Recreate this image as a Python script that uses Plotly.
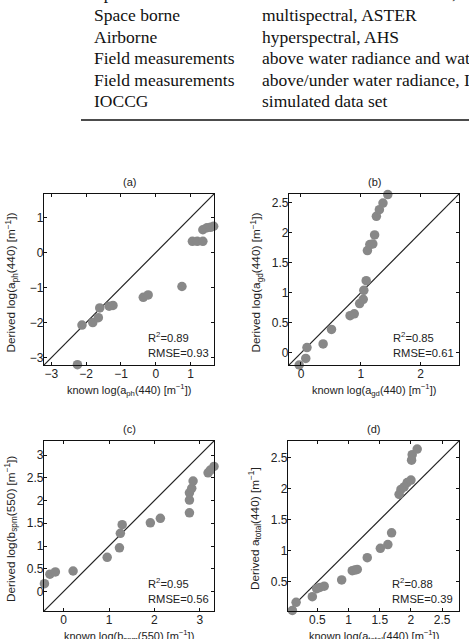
import plotly.graph_objects as go

W, H = 469, 639

# ---------------- data ----------------
a_known = [-2.25, -2.12, -1.81, -1.65, -1.61, -1.34, -1.23, -0.36, -0.22, 0.75,
           1.05, 1.19, 1.35, 1.35, 1.47, 1.57, 1.66]
a_derived = [-3.2, -2.07, -2.0, -1.86, -1.58, -1.53, -1.51, -1.28, -1.21, -0.97,
             0.32, 0.32, 0.32, 0.65, 0.71, 0.72, 0.75]

b_known = [-0.03, 0.08, 0.10, 0.37, 0.51, 0.82, 0.89, 0.98, 1.04, 1.05,
           1.09, 1.11, 1.15, 1.20, 1.23, 1.26, 1.31, 1.37, 1.45]
b_derived = [-0.20, -0.09, 0.09, 0.15, 0.39, 0.62, 0.65, 0.82, 0.89, 1.04,
             1.20, 1.70, 1.80, 1.81, 1.96, 2.27, 2.38, 2.49, 2.63]

c_known = [-0.42, -0.30, -0.18, 0.21, 0.96, 1.23, 1.25, 1.29, 1.91, 2.13,
           2.77, 2.77, 2.77, 2.82, 2.85, 3.18, 3.23, 3.31]
c_derived = [0.17, 0.38, 0.43, 0.45, 0.75, 0.96, 1.28, 1.47, 1.51, 1.61,
             1.73, 2.01, 2.17, 2.27, 2.43, 2.61, 2.67, 2.75]

d_known = [0.10, 0.16, 0.42, 0.49, 0.54, 0.61, 0.89, 1.06, 1.10, 1.14, 1.30,
           1.51, 1.63, 1.69, 1.81, 1.84, 1.89, 1.94, 2.00, 2.01, 2.02, 2.10]
d_derived = [0.04, 0.17, 0.26, 0.39, 0.41, 0.43, 0.53, 0.68, 0.69, 0.70, 0.89,
             1.04, 1.10, 1.29, 1.91, 1.99, 2.03, 2.10, 2.14, 2.46, 2.55, 2.64]

panel_titles = ["(a)", "(b)", "(c)", "(d)"]
r2_labels = ["R<sup>2</sup>=0.89", "R<sup>2</sup>=0.85", "R<sup>2</sup>=0.95", "R<sup>2</sup>=0.88"]
rmse_labels = ["RMSE=0.93", "RMSE=0.61", "RMSE=0.56", "RMSE=0.39"]
x_titles = ["known log(a<sub>ph</sub>(440) [m<sup>−1</sup>])",
            "known log(a<sub>gd</sub>(440) [m<sup>−1</sup>])",
            "known log(b<sub>spm</sub>(550) [m<sup>−1</sup>])",
            "known log(a<sub>total</sub>(440) [m<sup>−1</sup>])"]
y_titles = ["Derived log(a<sub>ph</sub>(440) [m<sup>−1</sup>])",
            "Derived log(a<sub>gd</sub>(440) [m<sup>−1</sup>])",
            "Derived log(b<sub>spm</sub>(550) [m<sup>−1</sup>])",
            "Derived a<sub>total</sub>(440) [m<sup>−1</sup>]"]
ranges = [[-3.21, 1.67], [-0.2, 2.64], [-0.43, 3.31], [0.03, 2.77]]
xticks = [[-3, -2, -1, 0, 1], [0, 1, 2], [0, 1, 2, 3], [0.5, 1, 1.5, 2, 2.5]]
yticks = [[-3, -2, -1, 0, 1], [0, 0.5, 1, 1.5, 2, 2.5], [0, 0.5, 1, 1.5, 2, 2.5, 3],
          [0.5, 1, 1.5, 2, 2.5]]

table_col1 = ["Space borne", "Space borne", "Airborne", "Field measurements",
              "Field measurements", "IOCCG"]
table_col2 = ["medium and full resolution, MERIS", "multispectral, ASTER",
              "hyperspectral, AHS", "above water radiance and water samples",
              "above/under water radiance, IOPs", "simulated data set"]

# ---------------- layout helpers (pixel boxes) ----------------
boxes = [(44, 214, 194, 365), (289, 459, 194, 365), (44, 214, 441, 611), (288, 459, 441, 611)]


def px(x):
    return x / W


def py(y):
    return 1 - y / H


fig = go.Figure()
datasets = [(a_known, a_derived), (b_known, b_derived), (c_known, c_derived), (d_known, d_derived)]
GREY = "rgb(136,136,136)"
SANS = "Liberation Sans, Arial, sans-serif"
SERIF = "Liberation Serif, Times New Roman, serif"

annotations = []
layout = {}
for i, ((xs, ys), box, rng) in enumerate(zip(datasets, boxes, ranges)):
    n = "" if i == 0 else str(i + 1)
    xa, ya = "x" + n, "y" + n
    fig.add_trace(go.Scatter(x=[rng[0], rng[1]], y=[rng[0], rng[1]], xaxis=xa, yaxis=ya,
                             mode="lines", line=dict(color="#222", width=1.2),
                             showlegend=False, hoverinfo="skip", cliponaxis=True))
    fig.add_trace(go.Scatter(x=xs, y=ys, xaxis=xa, yaxis=ya, mode="markers",
                             marker=dict(color=GREY, size=9.5, line=dict(width=0)),
                             showlegend=False, cliponaxis=False))
    l, r, t, b = box
    common = dict(showline=True, linecolor="#111", linewidth=1.2, mirror="ticks",
                  ticks="inside", ticklen=3, tickcolor="#111", showgrid=False,
                  zeroline=False, range=rng, ticklabelstandoff=-3,
                  tickfont=dict(family=SANS, size=12, color="#222"))
    layout["xaxis" + n] = dict(common, domain=[px(l), px(r)], anchor=ya,
                               tickvals=xticks[i])
    layout["yaxis" + n] = dict(common, domain=[py(b), py(t)], anchor=xa,
                               tickvals=yticks[i])
    cx = (l + r) / 2
    annotations.append(dict(text=panel_titles[i], x=px(cx), y=py(t - 12), xref="paper",
                            yref="paper", showarrow=False, xanchor="center", yanchor="middle",
                            font=dict(family=SANS, size=11, color="#222")))
    annotations.append(dict(text=x_titles[i], x=px(cx), y=py(b + 25), xref="paper",
                            yref="paper", showarrow=False, xanchor="center", yanchor="middle",
                            font=dict(family=SANS, size=11, color="#222")))
    annotations.append(dict(text=y_titles[i], x=px(l - 33), y=py((t + b) / 2 + 3),
                            xref="paper", yref="paper", showarrow=False, textangle=-90,
                            xanchor="center", yanchor="middle",
                            font=dict(family=SANS, size=11.8, color="#222")))
    annotations.append(dict(text=r2_labels[i], x=px(l + 102), y=py(b - 28), xref="paper",
                            yref="paper", showarrow=False, xanchor="left", yanchor="middle",
                            font=dict(family=SANS, size=11.2, color="#222")))
    annotations.append(dict(text=rmse_labels[i], x=px(l + 102), y=py(b - 12), xref="paper",
                            yref="paper", showarrow=False, xanchor="left", yanchor="middle",
                            font=dict(family=SANS, size=11.2, color="#222")))

# table fragment at the top
row_y = [-6.5, 15, 37, 58, 80, 101]
for yy, c1, c2 in zip(row_y, table_col1, table_col2):
    annotations.append(dict(text=c1, x=px(92), y=py(yy), xref="paper", yref="paper",
                            showarrow=False, xanchor="left", yanchor="middle",
                            font=dict(family=SERIF, size=17.5, color="#111")))
    annotations.append(dict(text=c2, x=px(260), y=py(yy), xref="paper", yref="paper",
                            showarrow=False, xanchor="left", yanchor="middle",
                            font=dict(family=SERIF, size=17.5, color="#111")))

shapes = [dict(type="line", xref="paper", yref="paper", x0=px(81), x1=px(480),
               y0=py(120), y1=py(120), line=dict(color="#111", width=1.3))]

fig.update_layout(width=W, height=H, margin=dict(l=0, r=0, t=0, b=0),
                  paper_bgcolor="white", plot_bgcolor="white",
                  annotations=annotations, shapes=shapes, showlegend=False, **layout)

fig.write_html("out.html")
